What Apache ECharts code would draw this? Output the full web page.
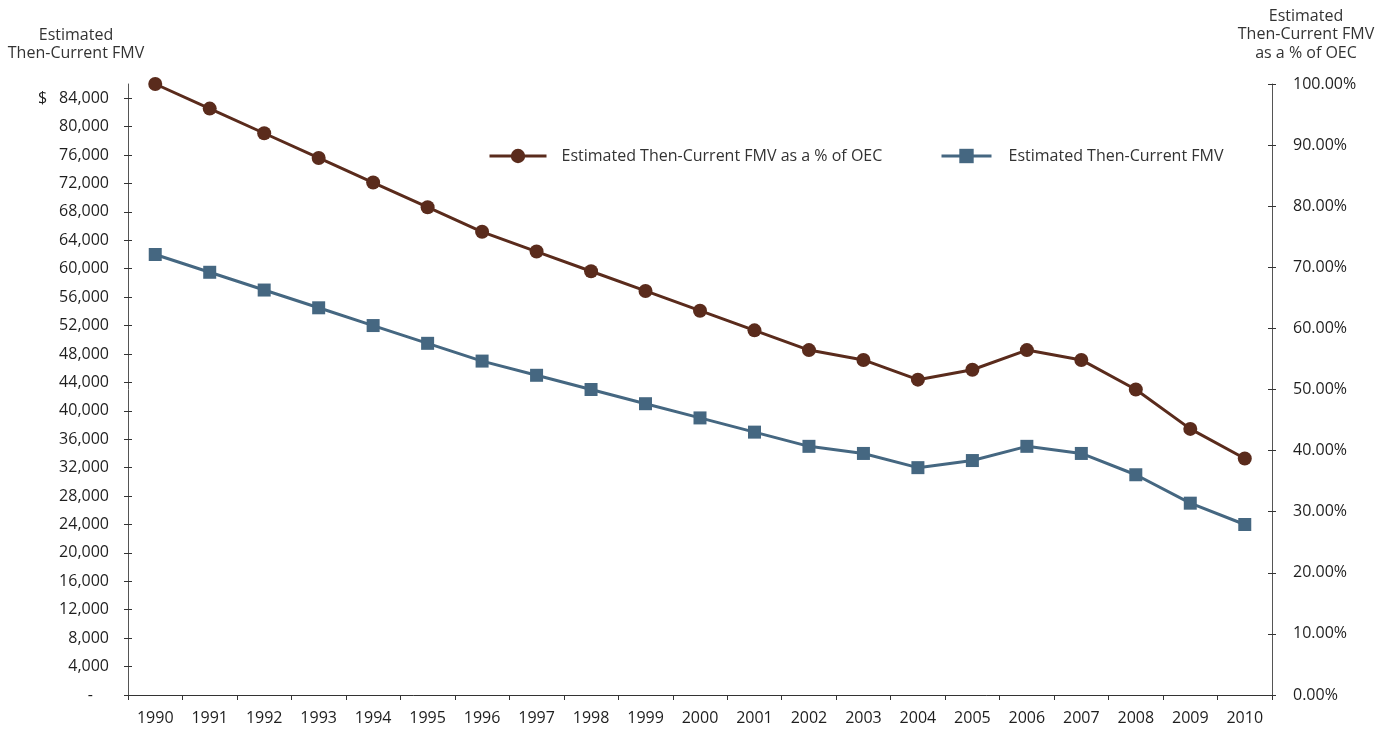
<!DOCTYPE html>
<html>
<head>
<meta charset="utf-8">
<script src="https://cdn.jsdelivr.net/npm/echarts@6/dist/echarts.min.js"></script>
<style>
  html, body { margin: 0; padding: 0; background: #fff; }
  #chart { width: 1388px; height: 731px; }
</style>
</head>
<body>
<div id="chart"></div>
<script>
// Years on the horizontal axis
const years = ['1990','1991','1992','1993','1994','1995','1996','1997','1998','1999','2000',
               '2001','2002','2003','2004','2005','2006','2007','2008','2009','2010'];

// Estimated then-current fair market value, USD
const fmvValues = [62000, 59500, 57000, 54500, 52000, 49500, 47000, 45000, 43000, 41000, 39000,
                   37000, 35000, 34000, 32000, 33000, 35000, 34000, 31000, 27000, 24000];

// Estimated then-current FMV as a percentage of original equipment cost
const pctValues = [100.00, 95.97, 91.94, 87.90, 83.87, 79.84, 75.81, 72.58, 69.35, 66.13, 62.90,
                   59.68, 56.45, 54.84, 51.61, 53.23, 56.45, 54.84, 50.00, 43.55, 38.71];

// Left axis tick positions (dollars) and right axis tick positions (percent)
const fmvTicks = [0, 4000, 8000, 12000, 16000, 20000, 24000, 28000, 32000, 36000, 40000, 44000,
                  48000, 52000, 56000, 60000, 64000, 68000, 72000, 76000, 80000, 84000];
const pctTicks = [0, 10, 20, 30, 40, 50, 60, 70, 80, 90, 100];

const pctName = 'Estimated Then-Current FMV as a % of OEC';
const fmvName = 'Estimated Then-Current FMV';

const FONT = 'Open Sans';
const BROWN = '#5a2b1c';
const BLUE = '#456781';
const AXIS = '#555555';
const TEXT = '#1e1e1e';

function fmtMoney(v) {
  if (v === 0) return '{z|-}';
  const s = v.toLocaleString('en-US');
  return v === 84000 ? '{d|$}' + s : s;
}

const chart = echarts.init(document.getElementById('chart'), null, { renderer: 'canvas' });

const leftAxisBase = {
  type: 'value', position: 'left', min: 0, max: 86000,
  splitLine: { show: false }
};
const rightAxisBase = {
  type: 'value', position: 'right', min: 0, max: 100, interval: 10,
  splitLine: { show: false }
};

const legendText = { fontFamily: FONT, fontSize: 16, color: '#333' };

chart.setOption({
  animation: false,
  textStyle: { fontFamily: FONT },
  grid: { left: 128, right: 116, top: 84, bottom: 36, containLabel: false },
  legend: [
    {
      data: [pctName], left: 488, top: 148, padding: 0, itemWidth: 57, itemHeight: 18,
      lineStyle: { width: 3 },
      textStyle: Object.assign({ padding: [0, 0, 0, 10] }, legendText)
    },
    {
      data: [fmvName], left: 940, top: 148, padding: 0, itemWidth: 50, itemHeight: 18,
      lineStyle: { width: 3 },
      textStyle: Object.assign({ padding: [0, 0, 0, 12] }, legendText)
    }
  ],
  graphic: [
    {
      type: 'text',
      style: {
        text: 'Estimated\nThen-Current FMV', x: 76, y: 26, align: 'center', verticalAlign: 'top',
        font: '16px "' + FONT + '"', fill: '#333', lineHeight: 18
      }
    },
    {
      type: 'text',
      style: {
        text: 'Estimated\nThen-Current FMV\nas a % of OEC', x: 1306, y: 7, align: 'center', verticalAlign: 'top',
        font: '16px "' + FONT + '"', fill: '#333', lineHeight: 18.5
      }
    }
  ],
  xAxis: {
    type: 'category', data: years, boundaryGap: true,
    axisLine: { lineStyle: { color: '#333', width: 1 } },
    axisTick: { show: true, inside: false, length: 5, lineStyle: { color: '#333' } },
    axisLabel: { margin: 15, fontSize: 16, color: TEXT, fontFamily: FONT }
  },
  yAxis: [
    Object.assign({}, leftAxisBase, {
      axisLine: { show: true, lineStyle: { color: AXIS } },
      axisTick: { show: true, inside: false, length: 4, customValues: fmvTicks, lineStyle: { color: '#333' } },
      axisLabel: {
        margin: 19, fontSize: 16, color: TEXT, fontFamily: FONT,
        customValues: fmvTicks, formatter: fmtMoney,
        rich: {
          z: { fontSize: 16, color: TEXT, fontFamily: FONT, padding: [0, 16, 0, 0] },
          d: { fontSize: 16, color: TEXT, fontFamily: FONT, padding: [0, 12, 0, 0] }
        }
      }
    }),
    Object.assign({}, rightAxisBase, {
      axisLine: { show: true, lineStyle: { color: AXIS } },
      axisTick: { show: true, inside: false, length: 4, lineStyle: { color: '#333' } },
      axisLabel: {
        margin: 21, fontSize: 16, color: TEXT, fontFamily: FONT,
        formatter: v => v.toFixed(2) + '%'
      }
    }),
    // inner halves of the crossing tick marks
    Object.assign({}, leftAxisBase, {
      axisLine: { show: false },
      axisTick: { show: true, inside: true, length: 4, customValues: fmvTicks, lineStyle: { color: '#333' } },
      axisLabel: { show: false }
    }),
    Object.assign({}, rightAxisBase, {
      axisLine: { show: false },
      axisTick: { show: true, inside: true, length: 4, lineStyle: { color: '#333' } },
      axisLabel: { show: false }
    })
  ],
  series: [
    {
      name: pctName, type: 'line', yAxisIndex: 1, data: pctValues,
      symbol: 'circle', symbolSize: 14,
      lineStyle: { color: BROWN, width: 3 },
      itemStyle: { color: BROWN },
      z: 3
    },
    {
      name: fmvName, type: 'line', yAxisIndex: 0, data: fmvValues,
      symbol: 'rect', symbolSize: 13,
      lineStyle: { color: BLUE, width: 3 },
      itemStyle: { color: BLUE },
      z: 2
    }
  ]
});
</script>
</body>
</html>
